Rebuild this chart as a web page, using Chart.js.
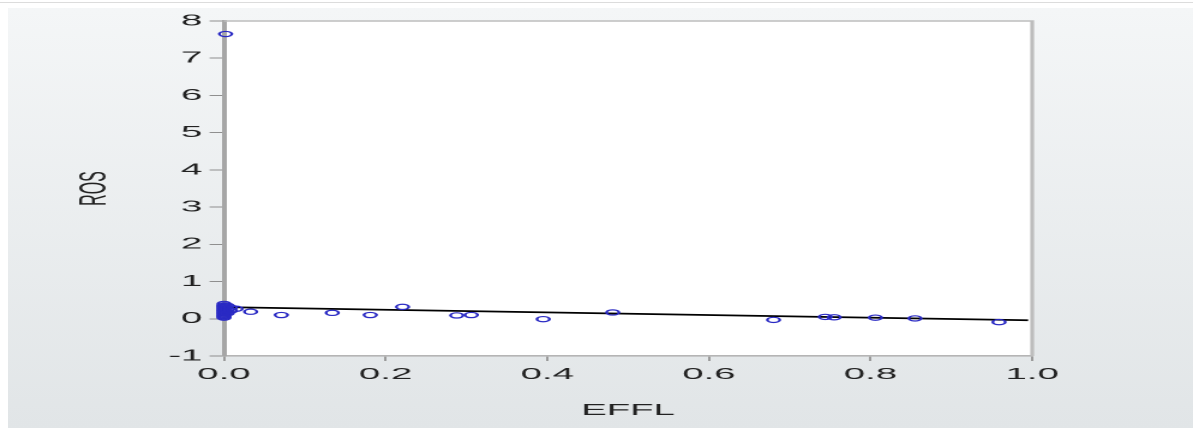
<!DOCTYPE html>
<html>
<head>
<meta charset="utf-8">
<title>ROS vs EFFL</title>
<script src="https://cdn.jsdelivr.net/npm/chart.js@4.4.1/dist/chart.umd.min.js"></script>
<style>
  html, body { margin: 0; padding: 0; width: 1193px; height: 441px; overflow: hidden; background: #ffffff; }
  #rule  { position: absolute; left: 0; top: 2px; width: 1193px; height: 1px; background: #dcdcdc; }
  #panel { position: absolute; left: 8px; top: 8px; width: 1185px; height: 420px;
           background: linear-gradient(#f4f6f7, #e1e5e7); }
  /* the plot is laid out on a narrow canvas and widened to the page */
  #chart { position: absolute; left: 0; top: 0; transform: scaleX(2.4004); transform-origin: 0 0; }
</style>
</head>
<body>
<div id="rule"></div>
<div id="panel"></div>
<canvas id="chart" width="497" height="441"></canvas>
<script>
// Observations: efficiency (EFFL) against return on sales (ROS)
const efflValues = [
  0.000, 0.000, 0.000, 0.000, 0.000, 0.000, 0.000, 0.000, 0.000, 0.000, 0.000, 0.000, 0.000,
  0.004, 0.004, 0.004, 0.008, 0.008, 0.015, 0.033,
  0.002,
  0.071, 0.134, 0.181, 0.221, 0.288, 0.306, 0.395, 0.481,
  0.680, 0.744, 0.755, 0.806, 0.855, 0.959
];
const rosValues = [
  0.40, 0.36, 0.33, 0.30, 0.27, 0.24, 0.21, 0.18, 0.15, 0.12, 0.09, 0.06, 0.03,
  0.35, 0.25, 0.15, 0.30, 0.22, 0.27, 0.19,
  7.65,
  0.10, 0.16, 0.10, 0.32, 0.09, 0.10, -0.01, 0.17,
  -0.03, 0.05, 0.04, 0.03, 0.01, -0.09
];

// Fitted regression line (end points)
const fitEffl = [0.000, 0.995];
const fitRos  = [0.313, -0.040];

// Axis ticks
const xTickValues = [0.0, 0.2, 0.4, 0.6, 0.8, 1.0];
const yTickValues = [-1, 0, 1, 2, 3, 4, 5, 6, 7, 8];

const points = efflValues.map((x, i) => ({ x: x, y: rosValues[i] }));
const fitLine = fitEffl.map((x, i) => ({ x: x, y: fitRos[i] }));

const FONT = { family: '"Liberation Sans", Arial, sans-serif', size: 16 };
const TEXT = '#222222';

// White plotting area and its frame
const plotFrame = {
  id: 'plotFrame',
  beforeDraw(chart) {
    const { ctx, chartArea: a } = chart;
    ctx.save();
    ctx.fillStyle = '#ffffff';
    ctx.fillRect(a.left, a.top, a.right - a.left, a.bottom - a.top);
    ctx.restore();
  },
  beforeDatasetsDraw(chart) {
    const { ctx, chartArea: a } = chart;
    ctx.save();
    ctx.strokeStyle = '#bdbdbd';
    ctx.lineWidth = 1.6;
    ctx.beginPath();
    ctx.moveTo(a.left, a.top);
    ctx.lineTo(a.right, a.top);
    ctx.lineTo(a.right, a.bottom);
    ctx.stroke();
    ctx.restore();
  }
};

new Chart(document.getElementById('chart'), {
  type: 'scatter',
  data: {
    datasets: [
      {
        label: 'ROS',
        data: points,
        showLine: false,
        pointStyle: 'circle',
        pointRadius: 2.6,
        pointBorderWidth: 1.2,
        borderColor: '#2a2ac4',
        backgroundColor: 'rgba(0,0,0,0)',
        clip: false
      },
      {
        type: 'line',
        label: 'Fit',
        data: fitLine,
        borderColor: '#000000',
        borderWidth: 1.8,
        pointRadius: 0,
        fill: false,
        tension: 0
      }
    ]
  },
  options: {
    responsive: false,
    animation: false,
    devicePixelRatio: 2,
    events: [],
    layout: { padding: { left: 0, right: 67, top: 21, bottom: 0 } },
    plugins: { legend: { display: false }, tooltip: { enabled: false } },
    scales: {
      x: {
        type: 'linear',
        position: 'bottom',
        min: 0,
        max: 1,
        afterFit(scale) { scale.height = 85; },
        afterBuildTicks(scale) { scale.ticks = xTickValues.map(v => ({ value: v })); },
        grid: { drawOnChartArea: false, drawTicks: true, tickLength: 5, tickColor: '#9a9a9a' },
        border: { display: true, color: '#b5b5b5', width: 1.6 },
        ticks: {
          padding: 4,
          color: TEXT,
          font: FONT,
          maxRotation: 0,
          callback: v => Number(v).toFixed(1)
        },
        title: {
          display: true,
          text: 'EFFL',
          color: TEXT,
          font: FONT,
          padding: { top: 0, bottom: 21 }
        }
      },
      y: {
        type: 'linear',
        position: 'left',
        min: -1,
        max: 8,
        afterFit(scale) { scale.width = 93.3; },
        afterBuildTicks(scale) { scale.ticks = yTickValues.map(v => ({ value: v })); },
        grid: { drawOnChartArea: false, drawTicks: true, tickLength: 6, tickColor: '#8f8f8f' },
        border: { display: true, color: '#a6a6a6', width: 2 },
        ticks: {
          padding: 3,
          color: TEXT,
          font: FONT,
          callback: v => String(v)
        },
        title: {
          display: true,
          text: 'ROS',
          color: TEXT,
          font: FONT,
          padding: { top: 30, bottom: 0 }
        }
      }
    }
  },
  plugins: [plotFrame]
});
</script>
</body>
</html>
